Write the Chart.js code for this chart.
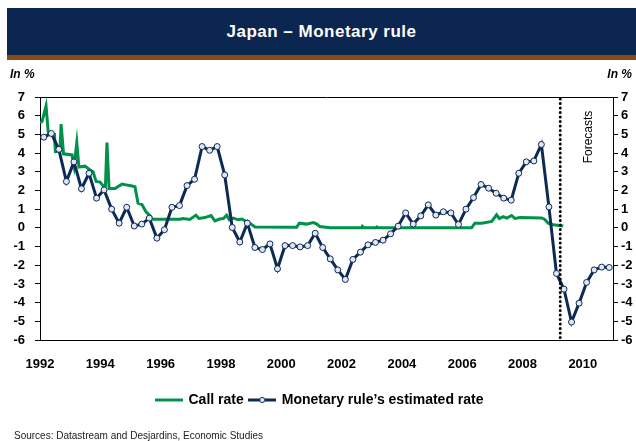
<!DOCTYPE html>
<html lang="en">
<head>
  <meta charset="UTF-8" />
  <title>Japan – Monetary rule</title>
  <script src="https://cdn.jsdelivr.net/npm/chart.js"></script>
  <style>
    body { margin: 0; background: #fff; font-family: "Liberation Sans", Arial, sans-serif; }
    #wrap { position: relative; width: 636px; height: 441px; overflow: hidden; }
    #chart { position: absolute; left: 0; top: 0; }
    .banner { position: absolute; left: 7px; right: 0; top: 8px; height: 47px; background: #0b2650; color: #fff;
              font-weight: bold; font-size: 17px; letter-spacing: 0.5px; text-align: center; line-height: 47px; }
    .stripe { position: absolute; left: 7px; right: 0; top: 55px; height: 5px; background: #8a4b12; }
    .unit { position: absolute; top: 67px; font-weight: bold; font-style: italic; font-size: 12px; }
    .unit.left { left: 10px; }
    .unit.right { right: 4px; }
    .source { position: absolute; left: 14px; top: 430px; font-size: 10px; color: #222; }
  </style>
</head>
<body>
<div id="wrap">
  <canvas id="chart" width="636" height="441"></canvas>
  <div class="banner">Japan – Monetary rule</div>
  <div class="stripe"></div>
  <div class="unit left">In %</div>
  <div class="unit right">In %</div>
  <div class="source">Sources: Datastream and Desjardins, Economic Studies</div>
</div>

<script>
  // axis labels
  const yearTicks = [1992, 1994, 1996, 1998, 2000, 2002, 2004, 2006, 2008, 2010];
  const startYear = 1992;
  const forecastStart = 2009.25;

  // call rate (monthly, read at turning points)
  const callYears = [1992.00, 1992.07, 1992.20, 1992.28, 1992.48, 1992.51, 1992.66, 1992.70, 1992.78, 1993.06,
                     1993.13, 1993.22, 1993.29, 1993.49, 1993.66, 1993.76, 1993.86, 1993.99, 1994.09, 1994.17,
                     1994.22, 1994.29, 1994.49, 1994.59, 1994.72, 1994.85, 1995.02, 1995.15, 1995.25, 1995.38,
                     1995.51, 1995.65, 1995.71, 1996.64, 1996.74, 1996.97, 1997.17, 1997.27, 1997.47, 1997.67,
                     1997.80, 1997.95, 1998.08, 1998.19, 1998.28, 1998.41, 1998.57, 1998.69, 1998.85, 1998.96,
                     1999.13, 2000.51, 2000.60, 2000.84, 2001.06, 2001.17, 2001.28, 2001.62, 2002.67, 2002.69,
                     2002.74, 2003.14, 2003.17, 2003.21, 2006.31, 2006.42, 2006.65, 2006.98, 2007.14, 2007.23,
                     2007.36, 2007.48, 2007.64, 2007.75, 2007.92, 2008.63, 2008.74, 2008.85, 2009.02, 2009.35];
  const callRates = [5.63, 5.7, 6.52, 5.0, 5.0, 4.08, 4.1, 5.55, 3.96, 3.9,
                     3.3, 4.56, 3.25, 3.3, 3.1, 3.0, 2.48, 2.45, 2.26, 2.25,
                     4.56, 2.1, 2.1, 2.21, 2.34, 2.3, 2.25, 2.2, 1.32, 1.25,
                     0.87, 0.64, 0.46, 0.46, 0.5, 0.45, 0.68, 0.5, 0.55, 0.66,
                     0.37, 0.47, 0.5, 0.68, 0.43, 0.52, 0.43, 0.47, 0.34, 0.25,
                     0.05, 0.03, 0.25, 0.2, 0.28, 0.22, 0.07, 0.0, 0.0, 0.08,
                     0.0, 0.0, 0.05, 0.0, 0.0, 0.25, 0.25, 0.34, 0.7, 0.5,
                     0.6, 0.52, 0.66, 0.5, 0.55, 0.53, 0.45, 0.25, 0.16, 0.1];

  // monetary rule, quarterly from 1992Q1 to 2010Q4
  const ruleRates = [4.85, 5.05, 4.2, 2.48, 3.53, 2.09, 2.92, 1.59,
                     2.03, 1.0, 0.25, 1.1, 0.1, 0.2, 0.52, -0.55,
                     -0.1, 1.1, 1.19, 2.26, 2.6, 4.35, 4.15, 4.35,
                     2.83, 0.02, -0.76, 0.25, -1.05, -1.16, -0.86, -2.19,
                     -0.95, -0.95, -1.02, -0.95, -0.29, -1.05, -1.66, -2.25,
                     -2.76, -1.69, -1.3, -0.91, -0.78, -0.66, -0.32, 0.09,
                     0.8, 0.2, 0.64, 1.23, 0.68, 0.86, 0.8, 0.18,
                     1.0, 1.62, 2.32, 2.12, 1.85, 1.59, 1.48, 2.92,
                     3.53, 3.58, 4.46, 1.12, -2.44, -3.28, -5.04, -4.03,
                     -2.92, -2.25, -2.1, -2.12];

  const green = "#00924a";
  const navy = "#0c2a55";
  const fontFamily = "'Liberation Sans', Arial, sans-serif";
  const tickFont = { family: fontFamily, size: 13, weight: "bold" };
  const legendFont = { family: fontFamily, size: 14, weight: "bold" };

  // legend icons
  function lineIcon(withDot) {
    const c = document.createElement("canvas");
    c.width = 28; c.height = 8;
    const g = c.getContext("2d");
    g.strokeStyle = withDot ? navy : green;
    g.lineWidth = 3;
    g.beginPath(); g.moveTo(0, 4); g.lineTo(28, 4); g.stroke();
    if (withDot) {
      g.fillStyle = "#e2e8f1"; g.lineWidth = 1;
      g.beginPath(); g.arc(14, 4, 2.6, 0, Math.PI * 2); g.fill(); g.stroke();
    }
    return c;
  }
  const legendIcons = [lineIcon(false), lineIcon(true)];

  const framePlugin = {
    id: "frame",
    afterDatasetsDraw(chart) {
      const { ctx, chartArea: a, scales } = chart;
      ctx.save();
      ctx.strokeStyle = "#000"; ctx.lineWidth = 1;
      ctx.beginPath(); ctx.moveTo(a.left, a.top + 0.5); ctx.lineTo(a.right, a.top + 0.5); ctx.stroke();
      // forecasts divider
      const fx = scales.x.getPixelForValue(forecastStart);
      ctx.lineWidth = 3; ctx.lineCap = "round"; ctx.setLineDash([0.1, 4.4]);
      ctx.beginPath(); ctx.moveTo(fx, a.top + 2); ctx.lineTo(fx, a.bottom); ctx.stroke();
      ctx.setLineDash([]);
      ctx.translate(fx + 28, a.top + 40);
      ctx.rotate(-Math.PI / 2);
      ctx.fillStyle = "#000";
      ctx.font = "12px " + fontFamily;
      ctx.textAlign = "center"; ctx.textBaseline = "middle";
      ctx.fillText("Forecasts", 0, 0);
      ctx.restore();
    }
  };

  new Chart(document.getElementById("chart"), {
    type: "line",
    data: {
      datasets: [
        {
          label: "Call rate",
          data: callYears.map((x, i) => ({ x, y: callRates[i] })),
          borderColor: green,
          backgroundColor: green,
          borderWidth: 3,
          pointRadius: 0,
          order: 1
        },
        {
          label: "Monetary rule’s estimated rate",
          data: ruleRates.map((y, i) => ({ x: startYear + (i + 0.5) / 4, y })),
          borderColor: navy,
          backgroundColor: navy,
          borderWidth: 3,
          pointRadius: 3,
          pointBorderWidth: 1,
          pointBackgroundColor: "#e2e8f1",
          pointBorderColor: navy,
          order: 0
        }
      ]
    },
    options: {
      responsive: false,
      animation: false,
      layout: { padding: { top: 97, bottom: 24, left: 4, right: 0 } },
      scales: {
        x: {
          type: "linear",
          min: 1992,
          max: 2011,
          afterBuildTicks: s => { s.ticks = yearTicks.map(v => ({ value: v })); },
          afterFit: s => { s.height = 47; },
          ticks: { autoSkip: false, maxRotation: 0, padding: 17, color: "#000", font: tickFont, callback: v => String(v) },
          grid: { display: false, drawTicks: false },
          border: { display: true, color: "#000", width: 1 }
        },
        y: {
          position: "left",
          min: -6,
          max: 7,
          afterFit: s => { s.width = 36; },
          ticks: { stepSize: 1, color: "#000", font: tickFont, padding: 10 },
          grid: { drawOnChartArea: false, tickLength: 5, color: "#000" },
          border: { color: "#000", width: 1 }
        },
        y2: {
          position: "right",
          min: -6,
          max: 7,
          afterFit: s => { s.width = 23; },
          ticks: { stepSize: 1, color: "#000", font: tickFont, padding: 3 },
          grid: { drawOnChartArea: false, tickLength: 5, color: "#000" },
          border: { color: "#000", width: 1 }
        }
      },
      plugins: {
        tooltip: { enabled: false },
        legend: {
          position: "bottom",
          labels: {
            usePointStyle: true,
            pointStyleWidth: 25,
            padding: 6,
            color: "#000",
            font: legendFont,
            sort: (a, b) => a.datasetIndex - b.datasetIndex,
            generateLabels: chart => Chart.defaults.plugins.legend.labels.generateLabels(chart)
              .map(it => Object.assign(it, { pointStyle: legendIcons[it.datasetIndex] }))
          }
        }
      }
    },
    plugins: [framePlugin]
  });
</script>
</body>
</html>
